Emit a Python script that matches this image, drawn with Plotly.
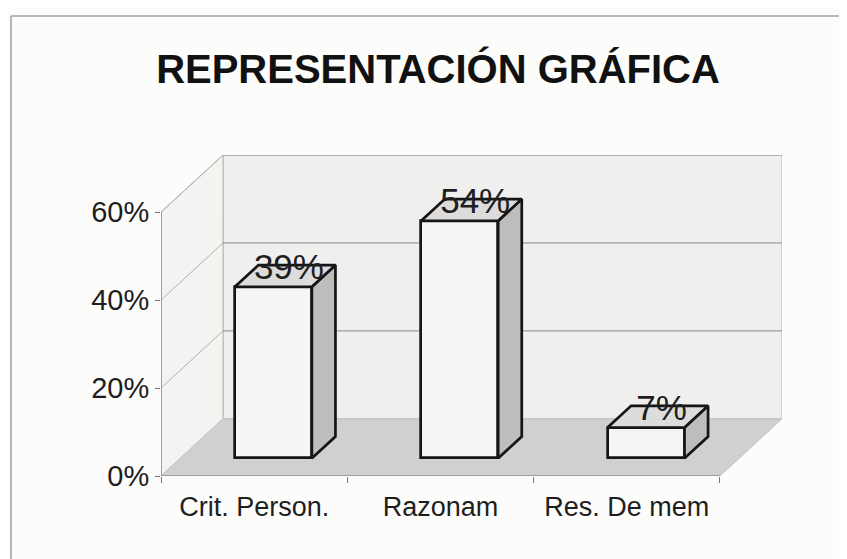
import plotly.graph_objects as go

# ---- data ----
categories = ["Crit. Person.", "Razonam", "Res. De mem"]
values = [39, 54, 7]
y_ticks = [0, 20, 40, 60]
title_text = "REPRESENTACIÓN GRÁFICA"

# ---- pseudo-3D geometry (in axis units) ----
DX = 0.333      # depth offset along x (category units)
DY = 13.0       # depth offset along y (percent units)
F0, F1 = 0.31, 0.69   # bar front/back position in the depth
BW = 0.413      # bar width
YMAX = 60
XMIN, XMAX = -0.5, len(categories) - 0.5

FONT = "Liberation Sans, Arial, sans-serif"
INK = "#1e1e1e"

# page offset (body margin of 8 px) compensation
W, H = 839, 551
ML, MT = 153, 147
PW, PH = 621, 321
MR, MB = W - ML - PW, H - MT - PH

fig = go.Figure()


def path(xs, ys, close=True):
    p = "M " + " L ".join(f"{x},{y}" for x, y in zip(xs, ys))
    return p + (" Z" if close else "")


shapes = []


def bg_poly(xs, ys, fill, line_color, lw):
    shapes.append(dict(type="path", xref="x", yref="y", layer="below",
                       path=path(xs, ys), fillcolor=fill,
                       line=dict(color=line_color, width=lw)))


def bg_seg(xs, ys, color, lw):
    shapes.append(dict(type="path", xref="x", yref="y", layer="below",
                       path=path(xs, ys, close=False),
                       line=dict(color=color, width=lw)))


# walls and floor
bg_poly([XMIN + DX, XMAX + DX, XMAX + DX, XMIN + DX], [DY, DY, YMAX + DY, YMAX + DY],
        "#efefed", "#b5b5b3", 1)
bg_poly([XMIN, XMIN + DX, XMIN + DX, XMIN], [0, DY, YMAX + DY, YMAX],
        "#f3f3f1", "#b5b5b3", 1)
bg_poly([XMIN, XMAX, XMAX + DX, XMIN + DX], [0, 0, DY, DY],
        "#d0d0ce", "#c4c4c2", 1)

# gridlines
for t in y_ticks[1:]:
    bg_seg([XMIN, XMIN + DX], [t, t + DY], "#b0b0ae", 1)
    bg_seg([XMIN + DX, XMAX + DX], [t + DY, t + DY], "#8a8a88", 1)

# front axis lines
bg_seg([XMIN, XMIN], [0, YMAX], "#767674", 1.2)
bg_seg([XMIN, XMAX], [0, 0], "#767674", 1.2)


def poly(xs, ys, fill, line_color, lw):
    fig.add_trace(go.Scatter(x=xs + [xs[0]], y=ys + [ys[0]], mode="lines",
                             fill="toself", fillcolor=fill,
                             line=dict(color=line_color, width=lw),
                             hoverinfo="skip", showlegend=False))


# bars: front face as Bar, side/top faces as polygons
xs_front = [i + F0 * DX for i in range(len(categories))]
dd_x = (F1 - F0) * DX
dd_y = (F1 - F0) * DY
base = F0 * DY

fig.add_trace(go.Bar(x=xs_front, y=values, base=[base] * len(values), width=BW,
                     marker=dict(color="#f5f5f3", line=dict(color="#151515", width=2.7)),
                     hoverinfo="skip", showlegend=False))

for xc, v in zip(xs_front, values):
    xl, xr = xc - BW / 2, xc + BW / 2
    top = base + v
    poly([xr, xr, xr + dd_x, xr + dd_x], [base, top, top + dd_y, base + dd_y],
         "#bdbdbb", "#151515", 2.7)
    poly([xl, xr, xr + dd_x, xl + dd_x], [top, top, top + dd_y, top + dd_y],
         "#dcdcda", "#151515", 2.7)

# data labels
fig.add_trace(go.Scatter(
    x=[xc + 0.5 * dd_x + 0.02 for xc in xs_front],
    y=[v + 0.5 * DY + 1.3 for v in values],
    mode="text", text=[f"{v}%" for v in values], textposition="middle center",
    textfont=dict(family=FONT, size=35, color=INK),
    hoverinfo="skip", showlegend=False, cliponaxis=False))

# outer frame (top and left edges visible)
fx = (3 - ML) / PW
fy = (MT + PH - 8) / PH
shapes += [
    dict(type="line", xref="paper", yref="paper", x0=fx, x1=1.3, y0=fy, y1=fy,
         line=dict(color="#a0a09e", width=1.5)),
    dict(type="line", xref="paper", yref="paper", x0=fx, x1=fx, y0=fy, y1=-0.5,
         line=dict(color="#a0a09e", width=1.5)),
]

fig.update_layout(
    width=W, height=H, autosize=False,
    margin=dict(l=ML, r=MR, t=MT, b=MB),
    paper_bgcolor="#fcfcfb", plot_bgcolor="rgba(0,0,0,0)",
    title=dict(text=title_text, x=430 / W, xanchor="center", y=1 - 61 / H, yanchor="middle",
               xref="container", yref="container",
               font=dict(family=FONT, size=40, color="#111111", weight="bold")),
    xaxis=dict(range=[XMIN, XMAX + DX], tickvals=list(range(len(categories))),
               ticktext=categories, ticks="", showgrid=False, zeroline=False,
               showline=False, tickfont=dict(family=FONT, size=27, color=INK),
               ticklabelstandoff=12,
               minor=dict(tickvals=[XMIN + k for k in range(len(categories) + 1)],
                          ticks="outside", ticklen=6, tickcolor="#767674",
                          tickwidth=1.2, showgrid=False)),
    yaxis=dict(range=[0, YMAX + DY], tickvals=y_ticks,
               ticktext=[f"{t}%" for t in y_ticks], ticks="outside", ticklen=5,
               tickcolor="#767674", tickwidth=1.2, showgrid=False, zeroline=False,
               showline=False, tickfont=dict(family=FONT, size=29, color=INK),
               ticklabelstandoff=0),
    bargap=0,
    shapes=shapes,
)

fig.write_html("out.html")
